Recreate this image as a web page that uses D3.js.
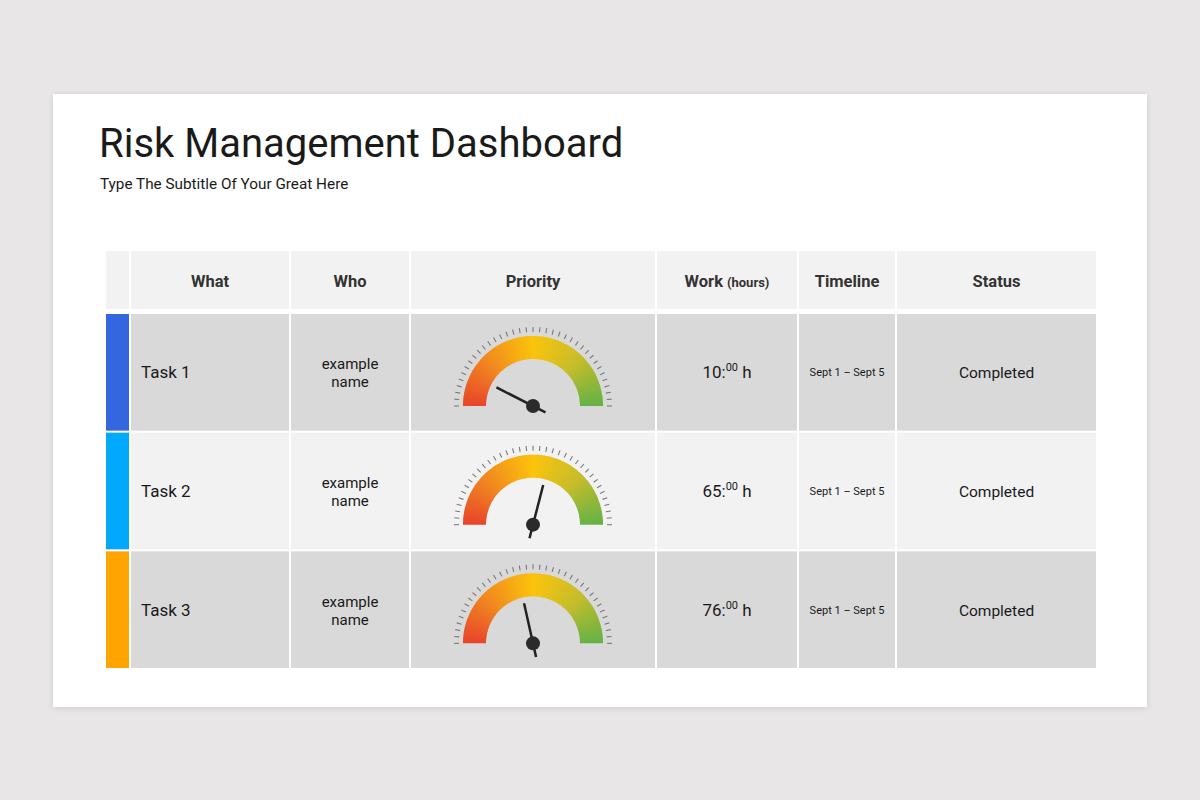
<!DOCTYPE html>
<html>
<head>
<meta charset="utf-8">
<script src="https://cdn.jsdelivr.net/npm/d3@7"></script>
<style>
  html, body { margin: 0; padding: 0; background: #e8e6e7; }
  svg { display: block; font-family: Roboto, "Noto Sans", sans-serif; }
</style>
</head>
<body>
<svg id="chart" width="1200" height="800"></svg>
<script>
// ---------- data ----------
const columns = ["", "What", "Who", "Priority", "Work", "Timeline", "Status"];
const tasks = ["Task 1", "Task 2", "Task 3"];
const who = ["example name", "example name", "example name"];
const priority = [15, 58, 43];           // gauge value, 0–100
const workHours = [10, 65, 76];
const timeline = ["Sept 1 – Sept 5", "Sept 1 – Sept 5", "Sept 1 – Sept 5"];
const status = ["Completed", "Completed", "Completed"];
const gaugeTicks = d3.range(0, 101, 100 / 36);

// ---------- styles ----------
const stripeColors = ["#3366df", "#00a9fc", "#ffa400"];
const rowFills = ["#d9d9d9", "#f2f2f2", "#d9d9d9"];
const headerFill = "#f2f2f2";
const gaugeStops = ["#e8442b", "#f18a1f", "#fcc30b", "#c6bd2b", "#62b246"];

const svg = d3.select("#chart");

// shadow
const defs = svg.append("defs");
const f = defs.append("filter").attr("id", "shadow").attr("x", "-5%").attr("y", "-5%").attr("width", "110%").attr("height", "110%");
f.append("feDropShadow").attr("dx", 0).attr("dy", 1).attr("stdDeviation", 3).attr("flood-color", "#000").attr("flood-opacity", 0.12);

// card
svg.append("rect").attr("x", 53).attr("y", 94).attr("width", 1094).attr("height", 613)
  .attr("fill", "#fff").attr("filter", "url(#shadow)");

svg.append("text").attr("x", 99).attr("y", 157).attr("font-size", 40).attr("fill", "#1a1a1a")
  .text("Risk Management Dashboard");
svg.append("text").attr("x", 100).attr("y", 189).attr("font-size", 15.3).attr("fill", "#1a1a1a")
  .text("Type The Subtitle Of Your Great Here");

// ---------- scales ----------
const colWidths = [23, 158, 118, 244, 140, 96, 199];
const gap = 2;
const colX = [];
{ let x = 106; colWidths.forEach(w => { colX.push(x); x += w + gap; }); }
const xCol = d3.scaleOrdinal().domain(columns.map((c, i) => i)).range(colX);
const wCol = i => colWidths[i];

const y = d3.scaleBand().domain(d3.range(tasks.length)).range([314, 668]).paddingInner(0.017);

const headerY = 251, headerH = 58;

// header
const g = svg.append("g");
columns.forEach((c, i) => {
  g.append("rect").attr("x", xCol(i)).attr("y", headerY).attr("width", wCol(i)).attr("height", headerH).attr("fill", headerFill);
  if (!c) return;
  const t = g.append("text").attr("x", xCol(i) + wCol(i) / 2).attr("y", headerY + 36)
    .attr("text-anchor", "middle").attr("font-size", 16.5).attr("font-weight", "bold").attr("fill", "#333");
  t.append("tspan").text(c);
  if (c === "Work") t.append("tspan").attr("font-size", 13).attr("dx", 4).text("(hours)");
});

// rows
const angle = d3.scaleLinear().domain([0, 100]).range([-Math.PI / 2, Math.PI / 2]);
const color = d3.scaleLinear().domain([0, 25, 50, 75, 100]).range(gaugeStops).interpolate(d3.interpolateRgb);
const segs = d3.range(0, 100, 1);
const arc = d3.arc().innerRadius(47).outerRadius(70);

tasks.forEach((task, r) => {
  const top = y(r), h = y.bandwidth(), cy = top + h / 2;
  const row = svg.append("g");
  columns.forEach((c, i) => {
    row.append("rect").attr("x", xCol(i)).attr("y", top).attr("width", wCol(i)).attr("height", h)
      .attr("fill", i === 0 ? stripeColors[r] : rowFills[r]);
  });
  // What
  row.append("text").attr("x", xCol(1) + 10).attr("y", cy + 6).attr("font-size", 17).attr("fill", "#1a1a1a").text(task);
  // Who
  const words = who[r].split(" ");
  words.forEach((wd, k) => {
    row.append("text").attr("x", xCol(2) + wCol(2) / 2).attr("y", cy - 3 + k * 18)
      .attr("text-anchor", "middle").attr("font-size", 15).attr("fill", "#1a1a1a").text(wd);
  });
  // Gauge
  const gx = xCol(3) + wCol(3) / 2, gy = top + 92;
  const gg = row.append("g").attr("transform", `translate(${gx},${gy})`);
  gg.selectAll("path.seg").data(segs).join("path").attr("class", "seg")
    .attr("d", d => arc({ startAngle: angle(d), endAngle: angle(Math.min(d + 1.4, 100)) }))
    .attr("fill", d => color(d + 0.5));
  gg.selectAll("line.tick").data(gaugeTicks).join("line").attr("class", "tick")
    .attr("x1", d => 74 * Math.sin(angle(d))).attr("y1", d => -74 * Math.cos(angle(d)))
    .attr("x2", d => 79 * Math.sin(angle(d))).attr("y2", d => -79 * Math.cos(angle(d)))
    .attr("stroke", "#7a7a7a").attr("stroke-width", 1.1);
  const a = angle(priority[r]);
  gg.append("line")
    .attr("x1", -14 * Math.sin(a)).attr("y1", 14 * Math.cos(a))
    .attr("x2", 41 * Math.sin(a)).attr("y2", -41 * Math.cos(a))
    .attr("stroke", "#222").attr("stroke-width", 2.5);
  gg.append("circle").attr("r", 7).attr("fill", "#2b2b2b");
  // Work
  const wt = row.append("text").attr("x", xCol(4) + wCol(4) / 2).attr("y", cy + 6)
    .attr("text-anchor", "middle").attr("font-size", 17).attr("fill", "#1a1a1a");
  wt.append("tspan").text(workHours[r] + ":");
  wt.append("tspan").attr("font-size", 11).attr("dy", -7).text("00");
  wt.append("tspan").attr("dy", 7).text(" h");
  // Timeline
  row.append("text").attr("x", xCol(5) + wCol(5) / 2).attr("y", cy + 4)
    .attr("text-anchor", "middle").attr("font-size", 11).attr("fill", "#1a1a1a").text(timeline[r]);
  // Status
  row.append("text").attr("x", xCol(6) + wCol(6) / 2).attr("y", cy + 6)
    .attr("text-anchor", "middle").attr("font-size", 15.5).attr("fill", "#1a1a1a").text(status[r]);
});
</script>
</body>
</html>
